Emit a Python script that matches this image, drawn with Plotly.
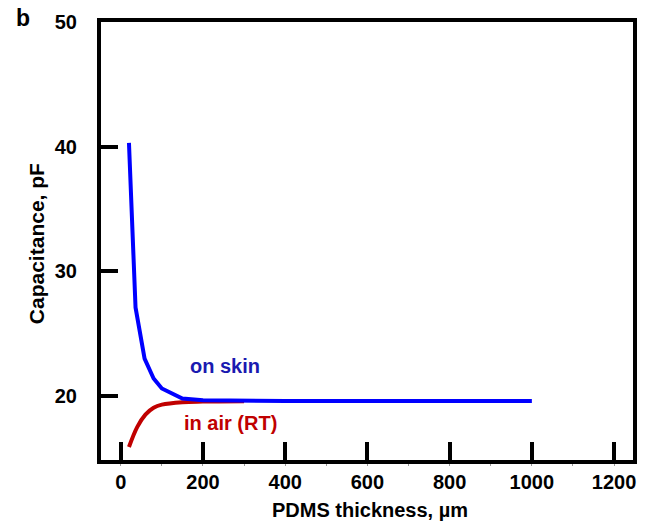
import plotly.graph_objects as go

# Data
skin_x = [20, 36, 58, 80, 100, 150, 200, 300, 400, 500, 600, 700, 800, 900, 1000]
skin_y = [40.3, 27.1, 23.0, 21.4, 20.6, 19.8, 19.65, 19.6, 19.6, 19.6, 19.6, 19.6, 19.6, 19.6, 19.6]
air_x = [20, 40, 60, 80, 100, 150, 200, 300]
air_y = [15.9, 17.5, 18.5, 19.05, 19.3, 19.5, 19.55, 19.58]

x_ticks = [0, 200, 400, 600, 800, 1000, 1200]
y_ticks = [20, 30, 40, 50]

FONT = "Liberation Sans, Arial, sans-serif"

fig = go.Figure()
fig.add_trace(go.Scatter(x=air_x, y=air_y, mode="lines", line_shape="spline",
                         line=dict(color="#c00000", width=4), name="in air (RT)"))
fig.add_trace(go.Scatter(x=skin_x, y=skin_y, mode="lines",
                         line=dict(color="#0000ff", width=4), name="on skin"))

# series labels
fig.add_annotation(x=253, y=22.4, text="<b>on skin</b>", showarrow=False,
                   font=dict(family=FONT, size=20, color="#1a1ab0"),
                   xanchor="center", yanchor="middle")
fig.add_annotation(x=268, y=17.85, text="<b>in air (RT)</b>", showarrow=False,
                   font=dict(family=FONT, size=20, color="#c00000"),
                   xanchor="center", yanchor="middle")
# panel letter and axis titles
fig.add_annotation(xref="paper", yref="paper", x=-0.147, y=1.009, text="<b>b</b>",
                   showarrow=False, xanchor="center", yanchor="middle",
                   font=dict(family=FONT, size=23, color="black"))
fig.add_annotation(xref="paper", yref="paper", x=0.506, y=-0.114,
                   text="<b>PDMS thickness, µm</b>", showarrow=False,
                   xanchor="center", yanchor="middle",
                   font=dict(family=FONT, size=20, color="black"))
fig.add_annotation(xref="paper", yref="paper", x=-0.122, y=0.493,
                   text="<b>Capacitance, pF</b>", showarrow=False, textangle=-90,
                   xanchor="center", yanchor="middle",
                   font=dict(family=FONT, size=21, color="black"))

fig.update_layout(
    width=646, height=523,
    margin=dict(l=101, r=13, t=22, b=63),
    paper_bgcolor="white", plot_bgcolor="white",
    showlegend=False,
    font=dict(family=FONT, color="black"),
    xaxis=dict(
        range=[-48, 1246], tickvals=x_ticks, ticktext=[str(v) for v in x_ticks],
        ticks="inside", ticklen=18, tickwidth=4, tickcolor="black",
        showline=True, linewidth=4, linecolor="black", mirror=True,
        showgrid=False, zeroline=False, automargin=False,
        tickfont=dict(family=FONT, size=20, color="black", weight="bold"),
        ticklabelstandoff=1,
        minor=dict(dtick=100, tick0=0, ticks="outside", ticklen=2, tickwidth=1,
                   tickcolor="#999999", showgrid=False),
    ),
    yaxis=dict(
        range=[14.86, 50], tickvals=y_ticks, ticktext=[str(v) for v in y_ticks],
        ticks="inside", ticklen=17, tickwidth=4, tickcolor="black",
        showline=True, linewidth=4, linecolor="black", mirror=True,
        showgrid=False, zeroline=False, automargin=False,
        tickfont=dict(family=FONT, size=20, color="black", weight="bold"),
        ticklabelstandoff=16,
    ),
)

fig.write_html("out.html", config={"displayModeBar": False})

# remove the browser's default body margin so the figure sits at the page origin
with open("out.html", "r", encoding="utf-8") as f:
    html = f.read()
html = html.replace("<body>", '<body style="margin:0;padding:0;overflow:hidden">', 1)
with open("out.html", "w", encoding="utf-8") as f:
    f.write(html)
